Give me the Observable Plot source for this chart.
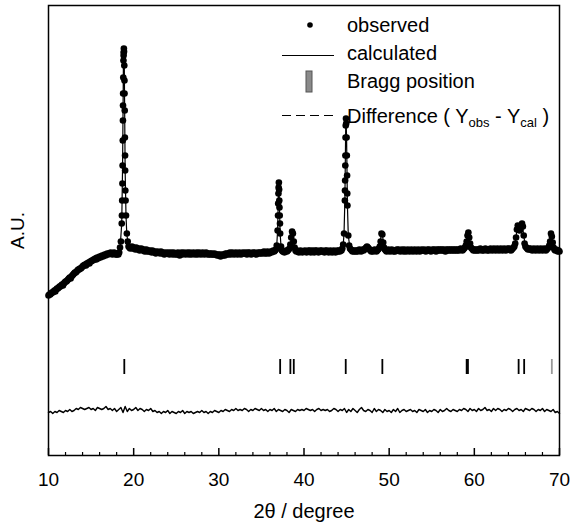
<!DOCTYPE html>
<html><head><meta charset="utf-8">
<script src="https://cdn.jsdelivr.net/npm/d3@7"></script>
<script src="https://cdn.jsdelivr.net/npm/@observablehq/plot@0.6"></script>
<style>
body{margin:0;background:#fff;}
#wrap{position:relative;width:571px;height:525px;font-family:"Liberation Sans",Arial,sans-serif;}
#legend{position:absolute;left:0;top:0;}
#chart g[aria-label="x-axis tick label"] text{font-size:19px;}
#chart g[aria-label="x-axis label"] text{font-size:20px;}
#chart g[aria-label="y-axis label"] text{font-size:19px;}
</style></head><body>
<div id="wrap"><div id="chart"></div>
<svg id="legend" width="571" height="140">
<g font-family="Liberation Sans, Arial, sans-serif" font-size="20" fill="black">
<circle cx="310" cy="25" r="2.8"/>
<text x="347" y="32">observed</text>
<line x1="282" x2="334" y1="55.5" y2="55.5" stroke="black" stroke-width="1.2"/>
<text x="347" y="60">calculated</text>
<rect x="306" y="71" width="6" height="21" fill="#8a8a8a" stroke="#555" stroke-width="1"/>
<text x="347" y="88">Bragg position</text>
<line x1="282" x2="336" y1="115.5" y2="115.5" stroke="black" stroke-width="1.2" stroke-dasharray="9,5"/>
<text x="347" y="123">Difference ( Y<tspan font-size="13" dy="4">obs</tspan><tspan dy="-4"> - Y</tspan><tspan font-size="13" dy="4">cal</tspan><tspan dy="-4"> )</tspan></text>
</g></svg>
</div>
<script>
// observed intensity on a 0.1° grid starting at 10°
const obsStart = 10, obsStep = 0.1;
const observedGrid = [
160,161,161,162,163,163,164,165,164,166,
167,167,168,169,169,170,171,170,172,173,
174,174,175,176,177,178,177,179,180,181,
182,183,183,184,185,186,186,187,187,188,
189,190,190,191,190,192,192,193,192,194,
194,195,195,196,196,197,196,198,197,198,
199,198,199,200,199,200,201,200,201,202,
201,202,202,203,202,201,202,203,202,201,
201,202,201,203,208,214,232,290,395,390,
285,240,222,214,209,208,207,208,209,207,
208,207,206,208,207,206,207,205,206,207,
206,205,206,204,205,206,204,205,204,205,
204,203,205,204,203,204,202,203,204,203,
203,202,204,203,202,203,201,202,203,202,
202,203,201,202,203,202,201,203,202,201,
202,201,203,202,200,202,203,201,202,203,
202,201,202,203,202,201,203,202,201,202,
203,202,201,202,203,201,202,203,202,201,
202,203,202,201,202,203,202,201,202,201,
202,201,202,201,201,202,201,201,200,201,
200,201,199,200,201,200,201,200,202,201,
202,201,202,203,201,202,203,202,201,202,
203,202,201,202,203,202,201,202,203,202,
202,203,202,201,203,202,203,202,201,202,
203,202,203,202,201,202,203,202,203,202,
203,202,203,204,202,203,202,204,203,202,
203,204,203,204,205,204,205,206,210,225,
262,255,222,209,205,204,204,203,204,205,
204,205,206,207,211,218,224,222,214,208,
205,204,205,204,203,204,205,204,203,204,
204,205,204,203,204,205,204,205,203,204,
205,204,203,205,204,205,204,203,204,205,
204,205,204,204,203,205,204,205,204,203,
204,205,204,203,204,205,204,203,204,205,
204,205,204,205,205,207,211,222,255,330,
318,250,220,210,207,206,205,204,205,204,
205,204,205,204,205,206,205,204,205,206,
205,206,207,208,209,208,207,206,205,204,
205,204,205,206,205,204,205,206,207,209,
214,222,221,213,208,206,205,204,205,206,
205,204,205,206,205,204,205,204,205,206,
205,206,205,204,205,206,205,204,206,205,
204,205,206,205,204,205,206,205,204,205,
206,205,204,205,206,205,204,205,206,205,
205,206,205,204,205,206,205,206,205,204,
205,206,205,206,205,204,206,205,206,205,
206,205,206,205,206,205,204,206,205,206,
205,206,205,206,205,206,205,206,205,206,
205,206,205,206,207,206,205,206,207,208,
210,214,220,223,218,212,208,207,206,205,
206,205,206,205,206,205,206,207,206,205,
206,205,206,207,206,205,206,205,206,207,
206,205,206,207,206,205,206,207,206,205,
206,207,206,205,206,207,206,205,206,207,
206,207,206,205,206,207,208,209,212,218,
226,230,228,225,226,230,232,229,220,212,
209,208,207,206,207,206,207,206,205,206,
207,206,205,206,207,206,205,206,207,206,
205,206,207,206,205,206,207,208,210,214,
222,219,213,208,206,205,206,205,204,205,
204
];
// extra observed points on the steep peak flanks [2θ, intensity]
const observedExtra = [
[18.62,240],[18.65,255],[18.68,272],[18.72,315],[18.74,335],[18.75,350],[18.76,362],[18.78,378],
[18.82,400],[18.83,403],[18.85,407],[18.87,404],[18.92,375],[18.93,362],[18.95,345],[18.97,318],
[18.99,300],[19.02,265],[19.05,255],
[36.95,240],[36.97,252],[37.02,268],[37.05,273],[37.08,266],[37.12,248],[37.15,240],[37.18,232],
[44.81,265],[44.83,275],[44.85,290],[44.86,300],[44.88,318],[44.93,337],[44.96,332],[45.03,300],
[45.06,280],[45.08,262]
];
// calculated profile [2θ, intensity]
const calculated = [
[10,160],[11,167],[12,174],[13,182],[14,189],[15,195],[16,199],[17,202],[18,202],[18.4,207],
[18.6,232],[18.7,290],[18.8,395],[18.85,406],[18.9,390],[19.0,285],[19.1,240],[19.2,220],[19.5,208],
[20,207],[21,205],[22,204],[23,203],[25,202],[30,201],[35,203],[36.5,205],[36.8,210],[36.9,225],
[37.0,262],[37.05,272],[37.1,255],[37.2,222],[37.3,209],[37.5,205],[38.2,206],[38.4,211],[38.5,218],
[38.65,225],[38.8,214],[38.9,208],[39.1,205],[44.4,205],[44.6,210],[44.7,222],[44.8,255],[44.9,330],
[44.93,337],[45.0,318],[45.1,250],[45.2,220],[45.4,207],[46,205],[48.6,206],[48.9,212],[49.1,222],
[49.2,221],[49.4,209],[49.7,205],[58.6,206],[59.0,210],[59.2,220],[59.3,223],[59.5,212],[59.8,206],
[64.5,207],[64.8,212],[65.0,226],[65.1,230],[65.3,225],[65.6,232],[65.8,220],[66.0,209],[66.3,207],
[68.6,207],[68.9,214],[69.0,222],[69.2,213],[69.5,205],[70,205]
];
const braggPositions = [18.9, 37.2, 38.4, 38.8, 44.9, 49.2, 59.1, 59.25, 65.2, 65.85, 69.1];
// difference (Yobs - Ycal), offset, on a 0.25° grid starting at 10°
const diffStart = 10, diffStep = 0.25;
const difference = [
43,44,42,44,43,45,44,43,45,44,
46,44,45,47,46,48,47,46,47,48,
46,47,45,48,47,46,47,49,46,47,
45,47,44,46,48,43,49,44,47,45,
46,48,45,47,46,44,46,45,47,44,
45,43,44,42,44,43,45,42,44,43,
42,44,43,45,42,44,43,44,42,43,
44,43,45,43,44,42,44,43,45,44,
43,45,44,46,45,44,46,45,47,45,
46,45,47,46,44,46,45,47,46,45,
47,45,46,44,46,45,47,44,46,45,
44,46,45,43,46,45,44,46,45,46,
45,47,46,45,46,44,46,47,45,46,
45,46,44,45,47,46,44,46,45,47,
43,46,44,47,45,43,46,48,45,44,
46,45,43,47,44,46,45,43,46,44,
45,43,46,44,47,43,45,46,44,45,
46,44,45,43,46,45,44,46,43,45,
44,46,45,43,46,44,45,47,45,44,
46,45,44,46,45,47,46,44,47,45,
46,44,47,45,46,48,45,46,44,47,
45,47,46,44,46,45,47,46,44,46,
47,45,46,44,47,46,45,47,46,44,
46,45,47,44,46,45,44,46,43,44,
42
];
const majorTicks = [10, 20, 30, 40, 50, 60, 70];
const minorTicks = [12,14,16,18,22,24,26,28,32,34,36,38,42,44,46,48,52,54,56,58,62,64,66,68];

const observed = observedGrid.map((v, i) => ({x: +(obsStart + i * obsStep).toFixed(2), y: v}))
  .concat(observedExtra.map(([x, y]) => ({x, y})))
  .sort((a, b) => a.x - b.x);
const calcRows = calculated.map(([x, y]) => ({x, y}));
const diffRows = difference.map((v, i) => ({x: +(diffStart + i * diffStep).toFixed(2), y: v}));
const lastBragg = braggPositions.length - 1;

const chart = Plot.plot({
  width: 571, height: 525,
  marginLeft: 48, marginRight: 12, marginTop: 5, marginBottom: 70,
  x: {domain: [10, 70]},
  y: {domain: [0, 450]},
  style: {fontFamily: "Liberation Sans, Arial, sans-serif", color: "black", background: "white", fontSize: "19px"},
  marks: [
    Plot.axisX({ticks: majorTicks, tickSize: 0, tickPadding: 17, tickFormat: d => String(d),
      label: "2θ / degree", labelAnchor: "center", labelOffset: 62, labelArrow: "none"}),
    Plot.axisY({ticks: [], tickSize: 0, label: "A.U.", labelAnchor: "center", labelOffset: 38, labelArrow: "none"}),
    Plot.ruleX(majorTicks, {x: d => d, y1: 0, y2: 7, stroke: "black", strokeWidth: 1.5}),
    Plot.ruleX(minorTicks, {x: d => d, y1: 0, y2: 3, stroke: "black", strokeWidth: 1.2}),
    Plot.line(diffRows, {x: "x", y: "y", stroke: "black", strokeWidth: 1.4}),
    Plot.ruleX(braggPositions, {x: d => d, y1: 81, y2: 96,
      stroke: (d, i) => i === lastBragg ? "#999" : "black",
      strokeWidth: 1.8}),
    Plot.line(calcRows, {x: "x", y: "y", stroke: "black", strokeWidth: 1.2}),
    Plot.dot(observed, {x: "x", y: "y", r: 3.3, fill: "black", stroke: "none"}),
    Plot.frame({stroke: "black", strokeWidth: 1.5})
  ]
});
document.getElementById("chart").appendChild(chart);
</script>
</body></html>
